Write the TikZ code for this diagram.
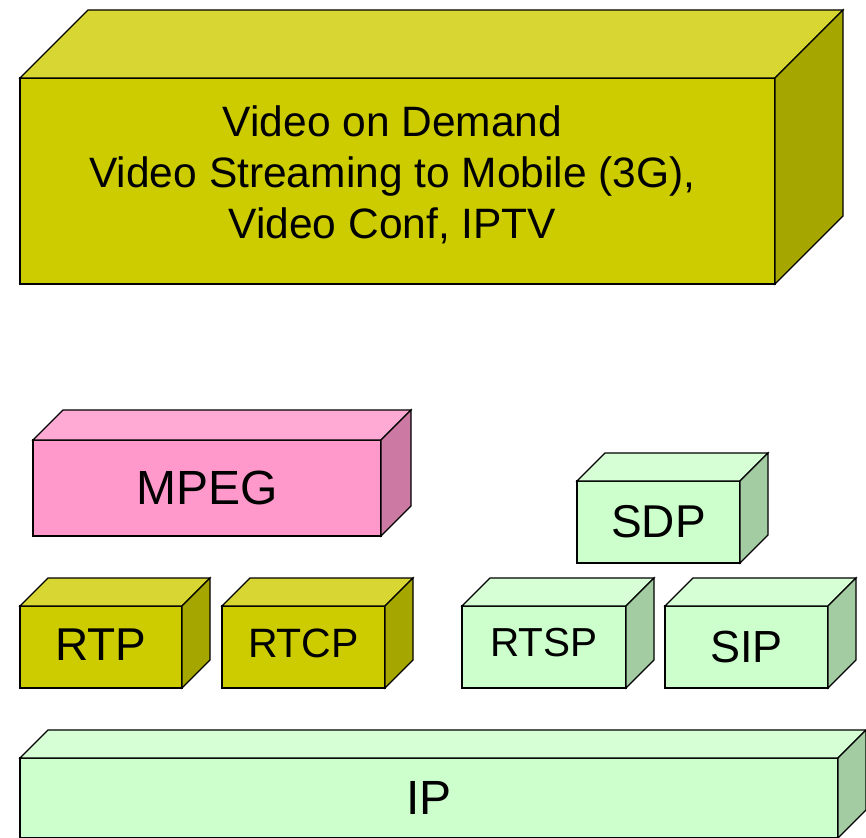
\documentclass[tikz,border=0pt]{standalone}
\usepackage{fontspec}
\setmainfont{Liberation Sans}
\definecolor{olivefront}{HTML}{CCCC00}
\definecolor{olivetop}{HTML}{D8D633}
\definecolor{oliveside}{HTML}{A6A600}
\definecolor{pinkfront}{HTML}{FF99CC}
\definecolor{pinktop}{HTML}{FFAAD5}
\definecolor{pinkside}{HTML}{CC7AA3}
\definecolor{greenfront}{HTML}{CCFFCC}
\definecolor{greentop}{HTML}{D6FFD6}
\definecolor{greenside}{HTML}{A3CCA3}
\tikzset{
  face/.style={draw=black, line width=1.2pt, line join=miter},
  front/.style={face, rectangle, outer sep=0pt, inner sep=0pt, anchor=north west},
  caption/.style={inner sep=0pt, align=center, text=black},
  % small nudges of individual captions
  apps caption/.style={xshift=-5pt, yshift=6pt},
  rtcp caption/.style={yshift=4pt},
  rtsp caption/.style={yshift=4pt},
  rtp caption/.style={yshift=2pt},
}
% \layerbox{name}{x}{y}{width}{height}{depth}{font size}{colour prefix}{text}
\newcommand{\layerbox}[9]{%
  \node[front, fill=#8front, minimum width=#4pt, minimum height=#5pt] (#1) at (#2,#3) {};
  \path[face, fill=#8top] (#1.north west) -- ++(#6,-#6) -- ++(#4,0) -- (#1.north east) -- cycle;
  \path[face, fill=#8side] (#1.north east) -- ++(#6,-#6) -- ++(0,#5) -- (#1.south east) -- cycle;
  \node[caption, font=\fontsize{#7}{\fpeval{1.2*#7}}\selectfont, #1 caption/.try]
    (#1-caption) at (#1.center) {#9};
}
\begin{document}
\begin{tikzpicture}[x=1pt, y=-1pt]
  \clip (0,0) rectangle (866,837);
  \fill[white] (0,0) rectangle (866,837);
  % application layer
  \layerbox{apps}{20}{78}{755}{206}{68}{42.5}{olive}{%
    Video on Demand\\Video Streaming to Mobile (3G),\\Video Conf, IPTV}
  % codec
  \layerbox{mpeg}{33}{440}{348}{96}{30}{48}{pink}{MPEG}
  % transport
  \layerbox{rtp}{20}{606}{162}{82}{28}{46}{olive}{RTP}
  \layerbox{rtcp}{222}{606}{163}{82}{28}{41}{olive}{RTCP}
  % session control
  \layerbox{sdp}{577}{481}{163}{82}{28}{46}{green}{SDP}
  \layerbox{rtsp}{462}{606}{164}{82}{28}{40.5}{green}{RTSP}
  \layerbox{sip}{665}{606}{163}{82}{28}{45}{green}{SIP}
  % network
  \layerbox{ip}{20}{758}{818}{80}{28}{48}{green}{IP}
\end{tikzpicture}
\end{document}
